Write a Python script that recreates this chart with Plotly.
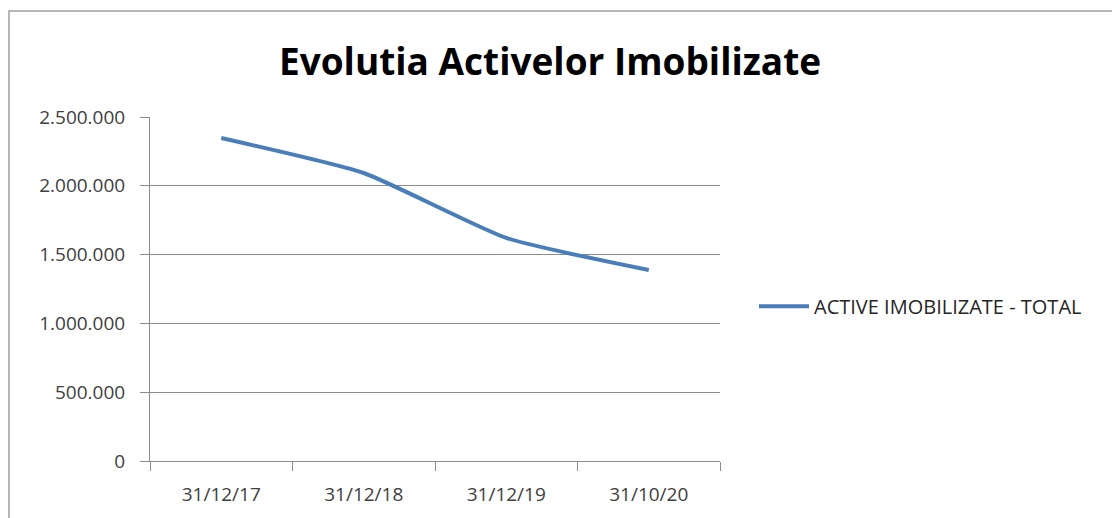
import plotly.graph_objects as go

# Data
dates = ["31/12/17", "31/12/18", "31/12/19", "31/10/20"]
total = [2347000, 2093000, 1621000, 1388000]
series_name = "ACTIVE IMOBILIZATE - TOTAL"

fig = go.Figure(
    go.Scatter(
        x=dates,
        y=total,
        mode="lines",
        name=series_name,
        line=dict(color="#4A7EBB", width=4, shape="spline", smoothing=0.5),
    )
)

grid = "#8C8C8C"
font = "Open Sans, Noto Sans, sans-serif"
fig.update_layout(
    width=1120,
    height=518,
    margin=dict(l=142, r=408, t=109, b=65),
    paper_bgcolor="white",
    plot_bgcolor="white",
    separators=",.",
    font=dict(family=font, size=19, color="#404040"),
    title=dict(
        text="<b>Evolutia Activelor Imobilizate</b>",
        font=dict(family=font, size=37, color="black"),
        x=(550 - 8) / 1120,
        xanchor="center",
        y=1 - (62 - 8) / 518,
        yanchor="middle",
    ),
    showlegend=True,
    legend=dict(
        x=(754 - 150) / 570,
        y=0.45,
        xanchor="left",
        yanchor="middle",
        font=dict(size=20, color="#262626"),
        itemwidth=50,
    ),
    xaxis=dict(
        type="category",
        range=[-0.5, 3.5],
        showgrid=False,
        showline=True,
        linecolor=grid,
        ticks="outside",
        tickson="boundaries",
        ticklen=9,
        tickcolor=grid,
        ticklabelstandoff=16,
    ),
    yaxis=dict(
        range=[0, 2500000],
        dtick=500000,
        tickformat=",d",
        showgrid=True,
        gridcolor=grid,
        showline=True,
        linecolor=grid,
        ticks="outside",
        ticklen=9,
        tickcolor=grid,
        ticklabelstandoff=11,
        zeroline=False,
    ),
    shapes=[
        dict(
            type="rect",
            xref="paper",
            yref="paper",
            x0=(9 - 150) / 570,
            x1=(1140 - 150) / 570,
            y0=(461 - 540) / 344,
            y1=(461 - 11) / 344,
            line=dict(color="#A0A0A0", width=1.5),
            layer="below",
        )
    ],
)

fig.write_html("out.html")
